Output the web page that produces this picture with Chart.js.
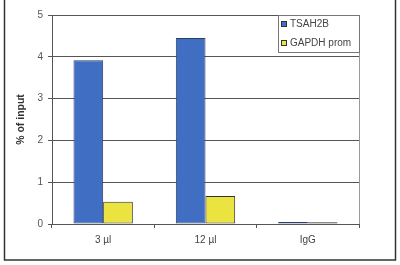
<!DOCTYPE html>
<html>
<head>
<meta charset="utf-8">
<script src="https://cdn.jsdelivr.net/npm/chart.js@4.4.0/dist/chart.umd.min.js"></script>
<style>
  html, body { margin: 0; padding: 0; background: #fff; }
  #wrap { width: 400px; height: 265px; position: relative; }
</style>
</head>
<body>
<div id="wrap"><canvas id="myChart" width="400" height="265"></canvas></div>
<script>
(function () {
  'use strict'

  // Data
  var categories = ['3 µl', '12 µl', 'IgG']
  var seriesNames = ['TSAH2B', 'GAPDH prom']
  var tsah2b = [3.92, 4.45, 0.05]
  var gapdh = [0.53, 0.67, 0.04]
  var yTicks = [0, 1, 2, 3, 4, 5]

  var font = '"Liberation Sans", Arial, sans-serif'

  // frame, plot border and in-plot legend
  var decor = {
    id: 'decor',
    beforeDraw: function (chart) {
      var c = chart.ctx
      c.save()
      c.fillStyle = '#fff'
      c.fillRect(0, 0, chart.width, chart.height)
      c.restore()
    },
    afterDraw: function (chart) {
      var c = chart.ctx
      var a = chart.chartArea
      c.save()
      c.strokeStyle = '#999'
      c.lineWidth = 1
      c.beginPath()
      c.moveTo(a.right + 0.5, a.top)
      c.lineTo(a.right + 0.5, a.bottom)
      c.stroke()

      // outer frame
      c.strokeStyle = '#333'
      c.lineWidth = 1.5
      c.strokeRect(4.5, -2, 391, 262)

      // legend box
      var lx = 278, ly = a.top, lw = a.right - 278, lh = 37
      c.fillStyle = '#fff'
      c.fillRect(lx, ly, lw, lh)
      c.strokeStyle = '#777'
      c.lineWidth = 1
      c.strokeRect(lx + 0.5, ly + 0.5, lw, lh)
      c.font = '10px ' + font
      c.textBaseline = 'middle'
      chart.data.datasets.forEach(function (ds, i) {
        var y = ly + 9 + i * 19
        c.fillStyle = ds.backgroundColor
        c.fillRect(lx + 3, y - 3, 6, 6)
        c.strokeStyle = '#333'
        c.strokeRect(lx + 3.5, y - 2.5, 5, 5)
        c.fillStyle = '#444'
        c.fillText(ds.label, lx + 12, y + 0.5)
      })
      c.restore()
    }
  }

  var ctx = document.getElementById('myChart')
  // eslint-disable-next-line no-unused-vars
  var myChart = new Chart(ctx, {
    type: 'bar',
    data: {
      labels: categories,
      datasets: [{
        label: seriesNames[0],
        data: tsah2b,
        backgroundColor: '#3f6ec2',
        borderColor: '#2a3f66',
        borderWidth: 1,
        borderSkipped: false
      }, {
        label: seriesNames[1],
        data: gapdh,
        backgroundColor: '#ebe33f',
        borderColor: '#333',
        borderWidth: 1,
        borderSkipped: false
      }]
    },
    plugins: [decor],
    options: {
      responsive: false,
      animation: false,
      layout: { padding: { left: 0, right: 41, top: 15, bottom: 0 } },
      datasets: {
        bar: { categoryPercentage: 0.58, barPercentage: 1.0 }
      },
      plugins: {
        legend: { display: false },
        tooltip: { enabled: false }
      },
      scales: {
        x: {
          afterFit: function (s) { s.height = 41 },
          grid: {
            offset: true,
            drawOnChartArea: false,
            color: '#555',
            tickLength: 4
          },
          border: { color: '#555', width: 1 },
          ticks: {
            color: '#444',
            padding: 6,
            font: { family: font, size: 10 }
          }
        },
        y: {
          min: 0,
          max: 5,
          afterFit: function (s) { s.width = 52 },
          afterBuildTicks: function (s) {
            s.ticks = yTicks.map(function (v) { return { value: v } })
          },
          grid: {
            color: '#555',
            lineWidth: 1,
            tickLength: 4
          },
          border: { color: '#555', width: 1 },
          ticks: {
            color: '#555',
            padding: 5,
            font: { family: font, size: 10 }
          },
          title: {
            display: true,
            text: '% of input',
            color: '#333',
            padding: { top: 15, bottom: 0 },
            font: { family: font, size: 10.5, weight: 'bold' }
          }
        }
      }
    }
  })
}())
</script>
</body>
</html>
